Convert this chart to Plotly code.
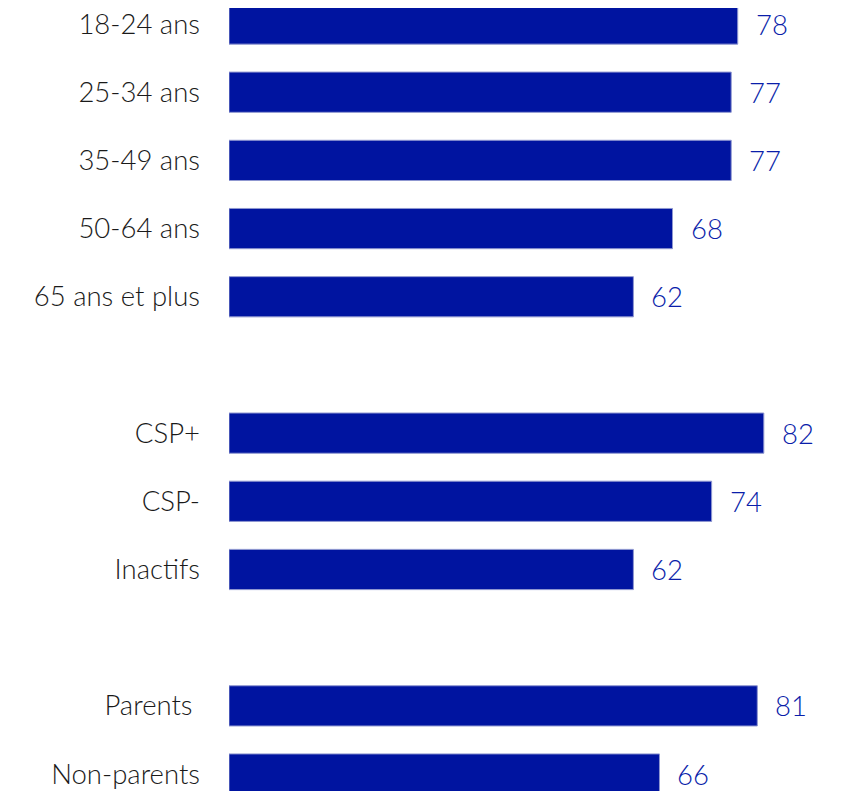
import plotly.graph_objects as go

categories = ["18-24 ans", "25-34 ans", "35-49 ans", "50-64 ans", "65 ans et plus",
              " ", "CSP+", "CSP-", "Inactifs", "  ", "Parents ", "Non-parents"]
values = [78, 77, 77, 68, 62, None, 82, 74, 62, None, 81, 66]

bar_color = "#0014A0"
label_color = "#0A1EAA"
font_family = "Lato, 'Noto Sans', sans-serif"

fig = go.Figure()
fig.add_trace(go.Bar(
    y=categories, x=values, orientation="h",
    marker=dict(color=bar_color, line=dict(width=1, color="#8f97d0")),
    hoverinfo="skip",
))

for c, v in zip(categories, values):
    if v is None:
        continue
    fig.add_annotation(x=v, y=c, text=str(v), showarrow=False,
                       xanchor="left", yanchor="middle", xshift=16,
                       font=dict(family=font_family, size=27.5, color=label_color, weight=300))

fig.update_layout(
    width=841, height=791,
    margin=dict(l=221, r=33, t=0, b=0),
    paper_bgcolor="white", plot_bgcolor="white",
    bargap=0.41,
    showlegend=False,
    font=dict(family=font_family, size=27.5, color="#1a1a1a", weight=300),
    xaxis=dict(range=[0, 90], visible=False, fixedrange=True),
    yaxis=dict(type="category", categoryorder="array", categoryarray=categories,
               range=[11.366, -0.235], showgrid=False, zeroline=False, showline=False,
               ticks="", ticklabelstandoff=28,
               tickfont=dict(family=font_family, size=27.5, color="#1a1a1a", weight=300)),
)

fig.write_html("out.html")
